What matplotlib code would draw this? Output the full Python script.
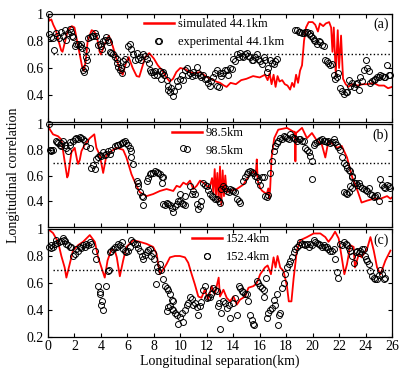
import matplotlib
matplotlib.use('Agg')
import matplotlib.pyplot as plt
from matplotlib.lines import Line2D
import numpy as np

plt.rcParams['font.family'] = ['Liberation Serif', 'DejaVu Serif']

# ---------------- panel (a) 44.1km ----------------
sim_a_x = [0.0, 0.1, 0.25, 0.4, 0.6, 0.8, 1.0, 1.1, 1.3, 1.5, 1.8, 2.0, 2.2, 2.4, 2.6, 2.7, 2.85, 3.0,
           3.3, 3.5, 3.7, 3.9, 4.0, 4.3, 4.6, 4.9, 5.2, 5.45, 5.65, 5.9, 6.1, 6.4, 6.7, 6.9, 7.1, 7.35,
           7.65, 8.0, 8.3, 8.65, 8.95, 9.2, 9.45, 9.7, 10.0, 10.4, 10.7, 11.1, 11.5, 11.9, 12.3, 12.7,
           13.0, 13.3, 13.5, 13.8, 14.2, 14.6, 15.0, 15.5, 16.0, 16.4, 16.6, 16.75, 16.9, 17.05, 17.2,
           17.35, 17.5, 17.7, 17.9, 18.1, 18.3, 18.45, 18.6, 18.75, 18.9, 19.05, 19.2, 19.35, 19.5,
           19.7, 20.0, 20.2, 20.4, 20.55, 20.8, 21.0, 21.25, 21.4, 21.5, 21.6, 21.75, 21.9, 22.0,
           22.15, 22.3, 22.5, 22.7, 23.0, 23.4, 23.8, 24.2, 24.6, 25.0, 25.4, 25.7, 26.0]
sim_a_y = [0.99, 0.95, 0.96, 0.92, 0.88, 0.80, 0.73, 0.72, 0.80, 0.88, 0.91, 0.90, 0.80, 0.70, 0.60, 0.58,
           0.65, 0.80, 0.88, 0.87, 0.83, 0.72, 0.70, 0.78, 0.84, 0.76, 0.66, 0.58, 0.55, 0.64, 0.68,
           0.60, 0.54, 0.535, 0.60, 0.68, 0.71, 0.67, 0.62, 0.58, 0.53, 0.50, 0.52, 0.57, 0.60, 0.59,
           0.57, 0.56, 0.57, 0.54, 0.52, 0.50, 0.49, 0.47, 0.46, 0.49, 0.48, 0.51, 0.52, 0.54, 0.53,
           0.55, 0.51, 0.56, 0.48, 0.55, 0.46, 0.54, 0.50, 0.51, 0.48, 0.47, 0.44, 0.49, 0.46, 0.55,
           0.49, 0.58, 0.62, 0.80, 0.90, 0.94, 0.94, 0.92, 0.87, 0.93, 0.91, 0.93, 0.94, 0.90, 0.72,
           0.90, 0.55, 0.88, 0.60, 0.84, 0.52, 0.48, 0.46, 0.48, 0.47, 0.48, 0.48, 0.49, 0.47, 0.47,
           0.45, 0.46]
exp_a_x = [0.05, 0.08, 0.25, 0.38, 0.45, 0.63, 0.7, 0.82, 1.01, 1.14, 1.26, 1.39, 1.5, 1.64, 1.77, 1.85,
           1.89, 2.02, 2.1, 2.27, 2.4, 2.53, 2.6, 2.65, 2.7, 2.78, 2.85, 2.9, 2.95, 3.03, 3.16, 3.3,
           3.41, 3.54, 3.66, 3.79, 3.91, 4.04, 4.1, 4.17, 4.29, 4.42, 4.55, 4.6, 4.67, 4.8, 4.9, 5.05,
           5.18, 5.25, 5.3, 5.43, 5.5, 5.56, 5.68, 5.81, 5.9, 6.06, 6.19, 6.25, 6.44, 6.55, 6.69, 6.8,
           6.94, 7.05, 7.2, 7.3, 7.45, 7.6, 7.7, 7.8, 7.95, 8.05, 8.1, 8.21, 8.3, 8.46, 8.55, 8.6,
           8.71, 8.8, 8.96, 9.05, 9.1, 9.22, 9.3, 9.47, 9.55, 9.72, 9.85, 9.97, 10.1, 10.2, 10.35,
           10.48, 10.6, 10.73, 10.85, 10.98, 11.1, 11.24, 11.35, 11.49, 11.6, 11.74, 11.85, 11.99,
           12.1, 12.25, 12.35, 12.5, 12.6, 12.75, 12.8, 12.9, 13.01, 13.1, 13.26, 13.4, 13.51, 13.6,
           13.76, 13.9, 14.02, 14.1, 14.27, 14.4, 14.52, 14.65, 14.77, 14.9, 15.03, 15.15, 15.28,
           15.4, 15.53, 15.65, 15.78, 15.9, 16.04, 16.15, 16.29, 16.4, 16.54, 16.65, 16.79, 16.9,
           17.05, 17.15, 17.3, 18.7, 18.81, 18.95, 19.07, 19.2, 19.32, 19.45, 19.57, 19.7, 19.82,
           19.9, 20.0, 20.08, 20.2, 20.33, 20.45, 20.58, 20.7, 20.83, 20.9, 21.09, 21.2, 21.34, 21.45,
           21.59, 21.7, 21.84, 21.95, 22.1, 22.2, 22.35, 22.5, 22.6, 22.75, 22.85, 23.0, 23.11, 23.25,
           23.36, 23.5, 23.61, 23.7, 23.86, 24.0, 24.12, 24.25, 24.37, 24.5, 24.62, 24.75, 24.87,
           25.0, 25.13, 25.25, 25.38, 25.5, 25.63, 25.75, 25.88]
exp_a_y = [1.0, 0.85, 0.83, 0.82, 0.73, 0.86, 0.84, 0.82, 0.87, 0.84, 0.88, 0.81, 0.86, 0.89, 0.87, 0.84,
           0.83, 0.76, 0.78, 0.78, 0.76, 0.78, 0.75, 0.585, 0.57, 0.60, 0.68, 0.73, 0.66, 0.82, 0.83,
           0.84, 0.84, 0.86, 0.84, 0.77, 0.78, 0.76, 0.74, 0.80, 0.81, 0.83, 0.81, 0.79, 0.72, 0.71,
           0.70, 0.68, 0.67, 0.64, 0.61, 0.585, 0.60, 0.56, 0.65, 0.67, 0.63, 0.76, 0.78, 0.74, 0.70,
           0.66, 0.71, 0.67, 0.68, 0.66, 0.70, 0.69, 0.67, 0.64, 0.585, 0.57, 0.57, 0.55, 0.58, 0.55,
           0.80, 0.58, 0.52, 0.56, 0.57, 0.55, 0.51, 0.47, 0.44, 0.42, 0.45, 0.39, 0.43, 0.50, 0.47,
           0.52, 0.55, 0.51, 0.585, 0.60, 0.55, 0.56, 0.54, 0.57, 0.55, 0.61, 0.56, 0.55, 0.53, 0.55,
           0.52, 0.52, 0.49, 0.47, 0.50, 0.535, 0.56, 0.585, 0.47, 0.46, 0.56, 0.54, 0.56, 0.585,
           0.585, 0.55, 0.60, 0.59, 0.67, 0.65, 0.70, 0.68, 0.71, 0.69, 0.68, 0.70, 0.71, 0.69, 0.68,
           0.66, 0.66, 0.68, 0.70, 0.67, 0.65, 0.63, 0.68, 0.66, 0.57, 0.60, 0.66, 0.64, 0.63, 0.65,
           0.67, 0.88, 0.88, 0.87, 0.87, 0.86, 0.86, 0.87, 0.87, 0.85, 0.86, 0.84, 0.82, 0.81, 0.80,
           0.78, 0.80, 0.79, 0.77, 0.76, 0.66, 0.65, 0.64, 0.62, 0.63, 0.55, 0.52, 0.53, 0.56, 0.45,
           0.43, 0.41, 0.42, 0.42, 0.51, 0.47, 0.49, 0.46, 0.48, 0.49, 0.44, 0.535, 0.50, 0.585, 0.66,
           0.60, 0.58, 0.49, 0.50, 0.51, 0.52, 0.535, 0.53, 0.55, 0.54, 0.535, 0.53, 0.62, 0.55, 0.55]

# ---------------- panel (b) 98.5km ----------------
sim_b_x = [0.0, 0.13, 0.38, 0.76, 1.01, 1.26, 1.45, 1.52, 1.77, 2.02, 2.2, 2.27, 2.4, 2.53, 2.78, 3.16,
           3.5, 3.66, 3.91, 4.04, 4.17, 4.42, 4.8, 5.18, 5.68, 5.93, 6.31, 6.69, 6.94, 7.45, 7.95,
           8.46, 8.96, 9.47, 9.72, 9.97, 10.23, 10.48, 10.73, 10.98, 11.24, 11.49, 11.74, 11.99, 12.2,
           12.4, 12.5, 12.6, 12.7, 12.8, 12.9, 13.0, 13.1, 13.2, 13.3, 13.4, 13.5, 13.76, 14.27, 14.77,
           15.28, 15.53, 15.7, 15.78, 15.85, 16.04, 16.2, 16.54, 16.65, 16.72, 16.79, 16.9, 17.1, 17.4,
           18.06, 18.56, 18.65, 18.7, 18.75, 19.2, 19.57, 19.95, 20.33, 20.7, 20.96, 21.2, 21.59,
           21.84, 22.2, 22.6, 23.0, 23.4, 23.7, 24.12, 24.62, 25.13, 25.63, 25.88, 26.0]
sim_b_y = [1.0, 0.96, 0.92, 0.905, 0.88, 0.71, 0.585, 0.60, 0.78, 0.815, 0.72, 0.69, 0.72, 0.79, 0.84,
           0.89, 0.92, 0.815, 0.76, 0.69, 0.62, 0.76, 0.79, 0.815, 0.80, 0.74, 0.61, 0.52, 0.47, 0.44,
           0.456, 0.48, 0.495, 0.48, 0.52, 0.51, 0.545, 0.53, 0.56, 0.495, 0.52, 0.56, 0.545, 0.52,
           0.50, 0.58, 0.46, 0.65, 0.45, 0.62, 0.40, 0.67, 0.37, 0.64, 0.44, 0.60, 0.47, 0.48, 0.495,
           0.53, 0.61, 0.635, 0.60, 0.725, 0.56, 0.50, 0.48, 0.456, 0.50, 0.42, 0.495, 0.74, 0.89,
           0.956, 0.97, 0.94, 0.94, 0.71, 0.93, 0.97, 0.89, 0.93, 0.87, 0.84, 0.74, 0.87, 0.84, 0.815,
           0.83, 0.74, 0.585, 0.48, 0.39, 0.405, 0.42, 0.42, 0.44, 0.42, 0.43]
exp_b_x = [0.05, 0.13, 0.2, 0.25, 0.38, 0.63, 0.7, 0.76, 0.88, 0.95, 1.01, 1.14, 1.26, 1.39, 1.52, 1.64,
           1.7, 1.89, 2.02, 2.15, 2.27, 2.4, 2.53, 2.65, 2.78, 2.9, 3.16, 3.28, 3.4, 3.54, 3.66, 3.79,
           3.91, 4.04, 4.17, 4.29, 4.42, 4.55, 4.67, 4.8, 5.05, 5.18, 5.3, 5.43, 5.56, 5.68, 5.81,
           5.93, 6.06, 6.19, 6.25, 6.31, 6.44, 6.69, 6.8, 6.82, 6.94, 7.07, 7.2, 7.2, 7.45, 7.58, 7.7,
           7.82, 7.95, 8.08, 8.21, 8.33, 8.46, 8.58, 8.71, 8.6, 8.71, 8.85, 8.96, 9.1, 9.22, 9.35,
           9.47, 9.6, 9.72, 9.85, 9.97, 10.1, 10.23, 10.35, 10.0, 10.35, 10.23, 10.73, 10.85, 10.98,
           11.1, 11.24, 11.35, 11.49, 11.6, 11.74, 11.85, 11.99, 12.1, 12.25, 12.4, 12.5, 12.6, 12.75,
           12.9, 13.01, 13.1, 13.26, 13.4, 13.51, 13.65, 13.76, 13.9, 14.02, 14.15, 14.27, 14.4,
           14.52, 14.77, 14.9, 15.03, 15.15, 15.28, 15.4, 15.53, 15.65, 15.78, 15.9, 16.04, 16.2,
           16.29, 16.4, 16.54, 16.6, 16.79, 16.92, 17.05, 17.15, 17.3, 17.4, 17.55, 17.68, 17.8,
           17.93, 18.06, 18.2, 18.31, 18.45, 18.56, 18.7, 18.81, 18.95, 19.07, 19.2, 19.32, 19.45,
           19.57, 19.7, 19.82, 19.95, 19.95, 20.1, 20.2, 20.33, 20.45, 20.58, 20.7, 20.83, 20.96,
           21.09, 21.2, 21.34, 21.45, 21.59, 21.7, 21.84, 21.95, 22.1, 22.2, 22.35, 22.5, 22.6, 22.75,
           22.85, 22.95, 23.0, 22.35, 22.5, 22.6, 22.75, 22.85, 22.95, 23.1, 23.25, 23.36, 23.5,
           23.61, 23.75, 23.86, 24.0, 24.12, 24.25, 24.37, 24.5, 24.62, 24.75, 24.87, 25.0, 25.13,
           25.25, 25.38, 25.5, 25.63, 25.75, 25.88]
exp_b_y = [1.0, 0.80, 0.79, 0.795, 0.80, 0.87, 0.86, 0.855, 0.84, 0.85, 0.83, 0.87, 0.84, 0.815, 0.79,
           0.84, 0.86, 0.87, 0.88, 0.89, 0.885, 0.897, 0.89, 0.887, 0.867, 0.83, 0.815, 0.66, 0.68,
           0.65, 0.73, 0.74, 0.76, 0.75, 0.78, 0.76, 0.765, 0.79, 0.77, 0.80, 0.83, 0.835, 0.84,
           0.845, 0.855, 0.86, 0.87, 0.855, 0.84, 0.815, 0.79, 0.74, 0.69, 0.56, 0.54, 0.52, 0.47,
           0.44, 0.37, 0.43, 0.56, 0.58, 0.61, 0.62, 0.62, 0.635, 0.63, 0.62, 0.61, 0.585, 0.585,
           0.545, 0.38, 0.37, 0.39, 0.38, 0.37, 0.35, 0.315, 0.36, 0.38, 0.40, 0.405, 0.39, 0.38,
           0.37, 0.456, 0.44, 0.81, 0.52, 0.456, 0.48, 0.46, 0.38, 0.34, 0.36, 0.405, 0.545, 0.53,
           0.52, 0.49, 0.456, 0.44, 0.43, 0.42, 0.42, 0.40, 0.39, 0.495, 0.52, 0.50, 0.48, 0.47,
           0.495, 0.49, 0.48, 0.47, 0.42, 0.40, 0.39, 0.56, 0.59, 0.61, 0.625, 0.635, 0.625, 0.62,
           0.60, 0.585, 0.56, 0.53, 0.585, 0.585, 0.44, 0.43, 0.45, 0.62, 0.71, 0.79, 0.83, 0.855,
           0.87, 0.89, 0.88, 0.905, 0.90, 0.89, 0.88, 0.92, 0.90, 0.89, 0.88, 0.87, 0.88, 0.885, 0.87,
           0.87, 0.815, 0.80, 0.78, 0.75, 0.71, 0.57, 0.84, 0.855, 0.86, 0.867, 0.875, 0.88, 0.87,
           0.865, 0.86, 0.87, 0.855, 0.86, 0.88, 0.86, 0.84, 0.82, 0.80, 0.74, 0.70, 0.68, 0.66, 0.64,
           0.635, 0.60, 0.585, 0.47, 0.465, 0.456, 0.47, 0.52, 0.50, 0.545, 0.54, 0.53, 0.545, 0.52,
           0.50, 0.495, 0.49, 0.48, 0.50, 0.46, 0.45, 0.43, 0.44, 0.45, 0.40, 0.57, 0.53, 0.51, 0.50,
           0.53, 0.52, 0.50]

# ---------------- panel (c) 152.4km ----------------
sim_c_x = [0.0, 0.38, 0.76, 1.01, 1.26, 1.39, 1.64, 1.89, 2.27, 2.65, 3.16, 3.54, 3.79, 4.04, 4.29, 4.5,
           4.8, 5.05, 5.2, 5.43, 5.68, 5.93, 6.44, 6.94, 7.45, 7.95, 8.21, 8.46, 8.71, 8.96, 9.22,
           9.6, 9.97, 10.35, 10.6, 10.86, 11.1, 11.36, 11.6, 11.85, 12.1, 12.37, 12.6, 12.9, 13.0,
           13.26, 13.51, 13.76, 14.02, 14.27, 14.52, 14.9, 15.15, 15.53, 15.78, 16.04, 16.4, 16.6,
           16.85, 17.05, 17.2, 17.35, 17.55, 17.8, 18.06, 18.2, 18.4, 18.56, 18.81, 19.07, 19.57,
           20.08, 20.58, 20.96, 21.2, 21.46, 21.7, 21.97, 22.2, 22.4, 22.6, 22.85, 23.1, 23.2, 23.5,
           23.7, 24.12, 24.37, 24.62, 24.87, 25.13, 25.5, 25.88]
sim_c_y = [1.0, 0.97, 0.905, 0.80, 0.715, 0.64, 0.74, 0.84, 0.88, 0.905, 0.955, 0.905, 0.79, 0.715,
           0.64, 0.766, 0.85, 0.84, 0.79, 0.65, 0.766, 0.867, 0.917, 0.905, 0.89, 0.867, 0.816, 0.665,
           0.70, 0.74, 0.79, 0.80, 0.80, 0.79, 0.75, 0.665, 0.59, 0.50, 0.49, 0.55, 0.477, 0.577,
           0.515, 0.64, 0.50, 0.55, 0.49, 0.464, 0.50, 0.44, 0.477, 0.50, 0.565, 0.577, 0.60, 0.665,
           0.715, 0.73, 0.665, 0.79, 0.715, 0.80, 0.715, 0.69, 0.577, 0.464, 0.464, 0.63, 0.84, 0.917,
           0.94, 0.967, 0.967, 0.94, 0.905, 0.94, 0.98, 0.93, 0.79, 0.665, 0.74, 0.88, 0.867, 0.715,
           0.816, 0.79, 0.854, 0.94, 0.84, 0.715, 0.665, 0.766, 0.84]
exp_c_x = [0.08, 0.2, 0.25, 0.38, 0.5, 0.63, 0.7, 0.83, 0.95, 1.14, 1.2, 1.26, 1.39, 1.52, 1.64, 1.77,
           1.89, 2.02, 2.15, 2.27, 2.4, 2.53, 2.65, 2.78, 2.9, 3.03, 3.16, 3.28, 3.54, 3.66, 3.79,
           3.91, 3.95, 4.04, 4.1, 4.17, 4.42, 4.5, 4.6, 4.67, 4.8, 4.92, 5.05, 5.18, 5.3, 5.43, 5.56,
           5.68, 5.81, 5.93, 6.06, 6.19, 6.31, 6.44, 6.55, 6.69, 6.8, 6.94, 7.07, 7.2, 7.33, 7.45,
           7.58, 7.7, 7.82, 7.95, 8.05, 8.21, 8.33, 8.46, 8.55, 8.2, 8.71, 8.85, 8.96, 9.1, 9.22,
           9.35, 9.47, 8.96, 9.1, 9.22, 9.35, 9.47, 9.6, 9.72, 9.85, 9.97, 10.1, 10.23, 10.35, 10.48,
           10.6, 10.73, 10.85, 10.98, 11.1, 11.24, 11.35, 11.49, 11.6, 11.74, 11.85, 11.99, 12.1,
           12.25, 12.35, 12.5, 12.6, 12.75, 11.99, 12.85, 12.95, 13.01, 13.1, 13.26, 13.4, 13.51,
           13.65, 13.76, 14.02, 14.15, 14.27, 14.4, 14.52, 14.65, 14.77, 14.9, 15.03, 15.15, 15.28,
           15.4, 15.53, 15.6, 15.78, 15.9, 16.04, 16.15, 16.29, 16.35, 16.45, 16.54, 16.65, 16.79,
           16.92, 17.05, 17.15, 17.3, 17.35, 17.45, 17.55, 17.68, 17.8, 17.93, 18.06, 18.2, 18.31,
           18.45, 18.56, 18.7, 18.81, 18.95, 19.07, 19.2, 19.32, 19.45, 19.57, 19.7, 19.82, 19.95,
           20.08, 20.2, 20.33, 20.45, 20.58, 20.7, 20.83, 20.96, 21.09, 21.2, 21.34, 21.5, 21.59,
           21.7, 21.84, 21.9, 22.1, 22.25, 22.35, 22.5, 22.6, 22.75, 22.85, 23.0, 23.11, 23.25, 23.36,
           23.5, 23.61, 23.75, 23.86, 23.95, 24.05, 24.12, 24.25, 24.37, 24.5, 24.62, 24.75, 24.87,
           25.0, 25.13, 25.25, 25.38, 25.5]
exp_c_y = [0.867, 0.86, 0.88, 0.87, 0.89, 0.917, 0.90, 0.905, 0.91, 0.93, 0.915, 0.91, 0.89, 0.88,
           0.87, 0.865, 0.80, 0.816, 0.854, 0.84, 0.867, 0.86, 0.88, 0.87, 0.89, 0.88, 0.905, 0.89,
           0.84, 0.78, 0.577, 0.515, 0.53, 0.44, 0.464, 0.40, 0.577, 0.69, 0.70, 0.83, 0.84, 0.855,
           0.867, 0.87, 0.89, 0.88, 0.905, 0.854, 0.84, 0.83, 0.84, 0.87, 0.917, 0.905, 0.89, 0.89,
           0.86, 0.84, 0.80, 0.78, 0.81, 0.83, 0.845, 0.854, 0.80, 0.82, 0.78, 0.715, 0.69, 0.74,
           0.70, 0.59, 0.63, 0.577, 0.56, 0.55, 0.515, 0.477, 0.47, 0.39, 0.42, 0.427, 0.41, 0.40,
           0.38, 0.364, 0.30, 0.35, 0.38, 0.313, 0.40, 0.44, 0.45, 0.50, 0.48, 0.44, 0.45, 0.42,
           0.364, 0.43, 0.46, 0.55, 0.577, 0.49, 0.50, 0.50, 0.52, 0.565, 0.55, 0.54, 0.80, 0.427,
           0.45, 0.26, 0.38, 0.464, 0.45, 0.414, 0.44, 0.34, 0.45, 0.49, 0.364, 0.577, 0.56, 0.54,
           0.53, 0.515, 0.52, 0.464, 0.364, 0.325, 0.30, 0.29, 0.615, 0.60, 0.577, 0.56, 0.50, 0.55,
           0.64, 0.34, 0.376, 0.40, 0.414, 0.477, 0.44, 0.515, 0.29, 0.364, 0.38, 0.565, 0.60, 0.665,
           0.715, 0.74, 0.766, 0.79, 0.83, 0.85, 0.867, 0.88, 0.905, 0.89, 0.89, 0.88, 0.89, 0.87,
           0.89, 0.88, 0.917, 0.905, 0.90, 0.89, 0.88, 0.87, 0.88, 0.87, 0.867, 0.85, 0.84, 0.84,
           0.854, 0.78, 0.68, 0.64, 0.89, 0.88, 0.905, 0.89, 0.88, 0.86, 0.84, 0.80, 0.75, 0.83, 0.84,
           0.82, 0.84, 0.85, 0.854, 0.80, 0.78, 0.766, 0.74, 0.69, 0.65, 0.64, 0.63, 0.627, 0.66,
           0.70, 0.665, 0.627, 0.64]

panels = [
    (sim_a_x, sim_a_y, exp_a_x, exp_a_y, 'simulated 44.1km', 'experimental 44.1km', '(a)'),
    (sim_b_x, sim_b_y, exp_b_x, exp_b_y, '98.5km', '98.5km', '(b)'),
    (sim_c_x, sim_c_y, exp_c_x, exp_c_y, '152.4km', '152.4km', '(c)'),
]
threshold = 0.7

# axes rectangles in figure fractions (left, bottom, width, height)
rects = [(0.1148, 0.6738, 0.823, 0.2888),
         (0.1148, 0.3930, 0.823, 0.2754),
         (0.1148, 0.0989, 0.823, 0.2888)]
legend_pos = [(0.28, 0.96), (0.36, 0.97), (0.42, 0.96)]
label_y = [0.905, 0.89, 0.90]

fig = plt.figure(figsize=(4.18, 3.74), dpi=100)
for i, (sx, sy, ex, ey, lab_s, lab_e, tag) in enumerate(panels):
    ax = fig.add_axes(rects[i])
    ax.plot(sx, sy, color='red', lw=1.3)
    ax.plot(ex, ey, 'o', mfc='none', mec='black', ms=4.3, mew=0.7, clip_on=False)
    ax.hlines(threshold, 0.35, 26, colors='black', linestyles=':', lw=1.0)
    ax.set_xlim(0, 26)
    ax.set_ylim(0.2, 1.0)
    ax.set_xticks(np.arange(0, 27, 2))
    if i < 2:
        ax.set_yticks([0.4, 0.6, 0.8, 1.0])
        ax.set_yticklabels(['0.4', '0.6', '0.8', '1'])
        ax.set_xticklabels([])
    else:
        ax.set_yticks([0.2, 0.4, 0.6, 0.8, 1.0])
        ax.set_yticklabels(['0.2', '0.4', '0.6', '0.8', '1'])
    ax.tick_params(direction='in', top=True, right=True, length=3, width=0.8,
                   labelsize=10, pad=3)
    ax.tick_params(axis='x', pad=2)
    for sp in ax.spines.values():
        sp.set_linewidth(0.9)
    handles = [Line2D([], [], color='red', lw=1.8),
               Line2D([], [], ls='none', marker='o', mfc='none', mec='black', ms=4.3, mew=0.7)]
    ax.legend(handles, [lab_s, lab_e], loc='upper left', bbox_to_anchor=legend_pos[i],
              frameon=False, fontsize=9, handlelength=2.4, handletextpad=0.3,
              borderpad=0, borderaxespad=0, labelspacing=0.45)
    ax.text(0.99, label_y[i], tag, transform=ax.transAxes, ha='right', va='center', fontsize=10)

fig.text(0.033, 0.532, 'Longitudinal correlation', rotation=90, ha='center', va='center', fontsize=10)
fig.text(0.526, 0.025, 'Longitudinal separation(km)', ha='center', va='baseline', fontsize=10)

fig.savefig('out.png', dpi=100)
